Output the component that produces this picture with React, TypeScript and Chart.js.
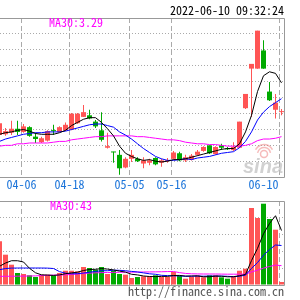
import React, { useEffect, useRef } from "react";
import { Chart, registerables } from "chart.js";

Chart.register(...registerables);

// ---------- data ----------
const dates = [
  "03-29", "03-30", "03-31", "04-01", "04-06", "04-07", "04-08", "04-11", "04-12", "04-13",
  "04-14", "04-15", "04-18", "04-19", "04-20", "04-21", "04-22", "04-25", "04-26", "04-27",
  "04-28", "04-29", "05-05", "05-06", "05-09", "05-10", "05-11", "05-12", "05-13", "05-16",
  "05-17", "05-18", "05-19", "05-20", "05-23", "05-24", "05-25", "05-26", "05-27", "05-30",
  "05-31", "06-01", "06-02", "06-06", "06-07", "06-08", "06-09", "06-10",
];
const tickDates = ["04-06", "04-18", "05-05", "05-16", "06-10"];
const timestamp = "2022-06-10 09:32:24";
const sourceText = "http://finance.sina.com.cn";

const open = [
  3.31, 3.32, 3.34, 3.39, 3.35, 3.41, 3.29, 3.22, 3.24, 3.37,
  3.35, 3.37, 3.38, 3.46, 3.54, 3.56, 3.48, 3.37, 3.15, 3.10,
  3.06, 2.90, 3.01, 3.01, 2.95, 2.96, 3.02, 2.96, 2.98, 3.01,
  3.08, 2.99, 3.00, 3.06, 3.11, 3.18, 3.07, 3.18, 3.14, 3.12,
  3.15, 3.65, 4.15, 4.15, 4.38, 3.86, 3.63, 3.60,
];
const high = [
  3.49, 3.40, 3.49, 3.49, 3.45, 3.42, 3.34, 3.29, 3.37, 3.44,
  3.42, 3.47, 3.59, 3.59, 3.69, 3.63, 3.50, 3.60, 3.34, 3.10,
  3.12, 3.03, 3.12, 3.03, 3.03, 3.01, 3.03, 3.01, 3.02, 3.11,
  3.10, 3.06, 3.07, 3.12, 3.17, 3.18, 3.17, 3.20, 3.16, 3.22,
  3.48, 3.83, 4.21, 4.63, 4.51, 3.98, 3.83, 3.64,
];
const low = [
  3.30, 3.30, 3.31, 3.31, 3.34, 3.29, 3.21, 3.21, 3.23, 3.31,
  3.35, 3.36, 3.37, 3.45, 3.54, 3.51, 3.40, 3.23, 3.14, 2.96,
  2.81, 2.89, 2.97, 2.97, 2.89, 2.93, 2.93, 2.91, 2.96, 3.00,
  2.98, 2.97, 2.99, 3.05, 3.10, 3.07, 3.06, 3.12, 3.12, 3.11,
  3.15, 3.64, 3.54, 4.15, 4.15, 3.74, 3.52, 3.56,
];
const close = [
  3.46, 3.36, 3.39, 3.35, 3.42, 3.30, 3.26, 3.27, 3.36, 3.36,
  3.41, 3.44, 3.58, 3.58, 3.60, 3.52, 3.42, 3.25, 3.17, 3.09,
  2.89, 3.01, 3.06, 2.98, 2.99, 2.99, 2.94, 2.99, 2.99, 3.09,
  2.99, 3.03, 3.05, 3.10, 3.16, 3.08, 3.16, 3.15, 3.13, 3.16,
  3.48, 3.83, 4.21, 4.63, 4.15, 3.75, 3.72, 3.61,
];
const ma5 = [
  3.32, 3.34, 3.35, 3.37, 3.38, 3.36, 3.33, 3.32, 3.32, 3.32,
  3.34, 3.37, 3.43, 3.47, 3.51, 3.53, 3.53, 3.47, 3.39, 3.30,
  3.17, 3.08, 3.04, 3.01, 2.99, 3.00, 2.98, 2.97, 2.98, 3.00,
  3.00, 3.01, 3.03, 3.05, 3.07, 3.09, 3.11, 3.13, 3.14, 3.14,
  3.20, 3.35, 3.56, 3.86, 4.06, 4.11, 4.09, 3.97,
];
const ma10 = [
  3.23, 3.26, 3.28, 3.30, 3.32, 3.33, 3.34, 3.34, 3.35, 3.35,
  3.35, 3.36, 3.38, 3.40, 3.42, 3.44, 3.45, 3.45, 3.43, 3.41,
  3.35, 3.31, 3.26, 3.20, 3.14, 3.09, 3.04, 3.01, 2.99, 2.99,
  3.00, 3.01, 3.00, 3.02, 3.03, 3.04, 3.06, 3.08, 3.09, 3.10,
  3.15, 3.23, 3.35, 3.50, 3.60, 3.67, 3.72, 3.77,
];
const ma30 = [
  3.17, 3.18, 3.18, 3.20, 3.20, 3.21, 3.21, 3.21, 3.21, 3.22,
  3.23, 3.23, 3.25, 3.26, 3.27, 3.28, 3.29, 3.29, 3.30, 3.30,
  3.30, 3.30, 3.30, 3.29, 3.29, 3.28, 3.27, 3.26, 3.25, 3.25,
  3.24, 3.22, 3.21, 3.20, 3.20, 3.19, 3.19, 3.18, 3.17, 3.17,
  3.17, 3.18, 3.20, 3.24, 3.26, 3.26, 3.27, 3.29,
];

const volume = [
  97.0, 67.3, 45.1, 26.6, 24.4, 21.5, 17.8, 22.9, 22.9, 21.5,
  26.6, 31.7, 31.7, 30.4, 40.0, 37.7, 34.0, 40.0, 24.4, 31.7,
  24.4, 22.9, 15.5, 17.8, 19.3, 19.3, 21.5, 17.8, 17.8, 28.9,
  20.6, 14.0, 18.4, 20.6, 17.1, 21.5, 21.5, 17.1, 14.0, 18.4,
  31.7, 36.2, 170.9, 148.7, 180.5, 146.5, 122.8, 6.7,
];
const volMa5 = [
  41.5, 48.8, 53.9, 53.9, 51.1, 37.1, 27.1, 22.6, 22.0, 21.3,
  22.4, 25.1, 26.9, 28.4, 32.2, 34.4, 34.9, 36.4, 35.3, 33.5,
  30.9, 28.6, 23.8, 22.4, 20.0, 18.9, 18.6, 19.1, 19.1, 21.1,
  21.3, 19.8, 20.0, 20.4, 18.2, 18.4, 19.8, 19.5, 18.2, 18.4,
  20.6, 23.5, 54.2, 81.3, 113.7, 136.5, 153.8, 121.0,
];
const volMa10 = [
  34.0, 36.5, 37.5, 37.7, 37.7, 37.7, 37.7, 37.7, 37.5, 36.6,
  29.7, 26.2, 24.9, 25.1, 26.6, 28.4, 30.0, 31.7, 31.7, 32.9,
  32.6, 31.7, 30.2, 28.9, 26.9, 24.9, 23.8, 21.5, 20.9, 20.4,
  20.2, 19.3, 19.5, 19.8, 19.5, 19.8, 19.8, 19.8, 19.3, 18.4,
  19.5, 21.8, 36.9, 49.7, 66.2, 78.6, 88.8, 87.7,
];
const volMa30 = [
  19.3, 19.3, 19.5, 19.5, 19.8, 20.0, 20.2, 21.0, 21.5, 22.0,
  22.2, 22.5, 23.5, 24.5, 25.5, 26.5, 27.0, 27.5, 27.8, 28.0,
  28.2, 28.4, 28.5, 28.7, 28.9, 29.0, 29.2, 29.4, 29.8, 30.0,
  27.5, 25.7, 24.9, 24.6, 24.4, 24.4, 24.4, 24.2, 24.0, 24.0,
  24.0, 24.2, 28.9, 32.9, 37.5, 41.1, 44.2, 43.0,
];

const priceMin = 2.78;
const priceMax = 4.79;
const volMin = 0;
const volMax = 186.5;

// ---------- styles ----------
const RED = "#ff5555";
const GREEN = "#00aa00";
const MA5_C = "#000000";
const MA10_C = "#0000ff";
const MA30_C = "#ff00ff";
const GRID_C = "#aaaaaa";
const FRAME_C = "#999999";
const DATE_C = "#1a73d9";
const FONT = '12px "Noto Sans Mono CJK SC", "DejaVu Sans Mono", monospace';

const candleColors = close.map((c, i) => (c >= open[i] ? RED : GREEN));
const pts = (arr: number[]) => arr.map((v, i) => ({ x: i, y: v }));

function xScale() {
  return {
    type: "linear",
    bounds: "data",
    offset: false,
    min: 1 / 12,
    max: dates.length - 7 / 12,
    afterBuildTicks: (scale: any) => {
      scale.ticks = tickDates.map((d) => ({ value: dates.indexOf(d) - 1 / 3 }));
    },
    ticks: { display: false },
    grid: { color: GRID_C, lineWidth: 1, drawTicks: false, offset: false },
    border: { display: false, dash: [5, 3] },
  };
}

function yScale(min: number, max: number, count: number) {
  return {
    type: "linear",
    bounds: "data",
    min,
    max,
    ticks: { display: false, count },
    grid: {
      color: (c: any) => (c.index === 0 || c.index === count - 1 ? "rgba(0,0,0,0)" : GRID_C),
      lineWidth: 1,
      drawTicks: false,
    },
    border: { display: false, dash: [1, 2] },
  };
}

function lineDs(label: string, data: number[], color: string) {
  return {
    type: "line",
    label,
    data: pts(data),
    borderColor: color,
    borderWidth: 1,
    pointRadius: 0,
    tension: 0,
    fill: false,
    order: 0,
    clip: 0,
  };
}

function drawFrame(chart: any) {
  const { ctx, chartArea: a } = chart;
  ctx.save();
  ctx.strokeStyle = FRAME_C;
  ctx.lineWidth = 1;
  ctx.beginPath();
  ctx.moveTo(0, a.top + 0.5);
  ctx.lineTo(a.right + 0.5, a.top + 0.5);
  ctx.lineTo(a.right + 0.5, a.bottom + 0.5);
  ctx.lineTo(0, a.bottom + 0.5);
  ctx.stroke();
  ctx.restore();
}

function text(ctx: any, s: string, x: number, y: number, color: string, align: string) {
  ctx.save();
  ctx.font = FONT;
  ctx.fillStyle = color;
  ctx.textAlign = align;
  ctx.textBaseline = "alphabetic";
  ctx.fillText(s, x, y);
  ctx.restore();
}

const pricePlugin = {
  id: "priceDecor",
  beforeDatasetsDraw(chart: any) {
    const { ctx, chartArea: a } = chart;
    // watermark
    ctx.save();
    ctx.globalAlpha = 0.5;
    ctx.strokeStyle = "#ee7777";
    ctx.lineWidth = 1.5;
    ctx.beginPath();
    ctx.arc(a.right - 20, a.bottom - 23, 3.5, 0, Math.PI * 2);
    ctx.stroke();
    ctx.beginPath();
    ctx.arc(a.right - 20, a.bottom - 23, 6.5, Math.PI * 1.05, Math.PI * 1.95);
    ctx.stroke();
    ctx.beginPath();
    ctx.arc(a.right - 20, a.bottom - 23, 9.5, Math.PI * 1.15, Math.PI * 1.85);
    ctx.stroke();
    ctx.globalAlpha = 0.7;
    ctx.fillStyle = "#bdbdbd";
    ctx.font = 'italic bold 20px "Liberation Sans", Arial, sans-serif';
    ctx.textAlign = "right";
    ctx.fillText("sina", a.right - 1, a.bottom - 4);
    ctx.restore();
    drawFrame(chart);
  },
  afterDraw(chart: any) {
    const { ctx, chartArea: a, scales } = chart;
    text(ctx, timestamp, a.right, a.top - 3, "#000000", "right");
    text(ctx, "MA30:" + ma30[ma30.length - 1].toFixed(2), 49, a.top + 9, MA30_C, "left");
    ctx.save();
    ctx.font = FONT;
    tickDates.forEach((d) => {
      const x = scales.x.getPixelForValue(dates.indexOf(d) - 1 / 3);
      const w = ctx.measureText(d).width;
      let left = x - w / 2;
      if (left + w > a.right - 5.5) left = a.right - 5.5 - w;
      ctx.fillStyle = DATE_C;
      ctx.textAlign = "left";
      ctx.fillText(d, left, a.bottom + 12);
    });
    ctx.restore();
  },
};

const volPlugin = {
  id: "volDecor",
  beforeDatasetsDraw(chart: any) {
    drawFrame(chart);
  },
  afterDraw(chart: any) {
    const { ctx, chartArea: a } = chart;
    text(ctx, "MA30:" + Math.round(volMa30[volMa30.length - 1]), 50, a.top + 9, MA30_C, "left");
    text(ctx, sourceText, a.right, a.bottom + 11, "#555555", "right");
  },
};

const common = {
  animation: false,
  responsive: false,
  devicePixelRatio: 1,
  events: [],
  plugins: { legend: { display: false }, tooltip: { enabled: false } },
};

export default function App() {
  const priceRef = useRef<HTMLCanvasElement>(null);
  const volRef = useRef<HTMLCanvasElement>(null);

  useEffect(() => {
    const priceChart = new Chart(priceRef.current as HTMLCanvasElement, {
      type: "bar",
      data: {
        datasets: [
          lineDs("MA5", ma5, MA5_C),
          lineDs("MA10", ma10, MA10_C),
          lineDs("MA30", ma30, MA30_C),
          {
            type: "bar",
            label: "body",
            data: open.map((o, i) => ({ x: i, y: [o, close[i]] })),
            backgroundColor: candleColors,
            barThickness: 5,
            grouped: false,
            minBarLength: 1,
            inflateAmount: 0,
            borderWidth: 0,
            order: 1,
          },
          {
            type: "bar",
            label: "wick",
            data: low.map((l, i) => ({ x: i, y: [l, high[i]] })),
            backgroundColor: candleColors,
            barThickness: 1,
            grouped: false,
            inflateAmount: 0,
            borderWidth: 0,
            order: 2,
          },
        ],
      } as any,
      options: {
        ...common,
        layout: { padding: { left: 0, right: 16, top: 18, bottom: 123 } },
        scales: { x: xScale(), y: yScale(priceMin, priceMax, 11) },
      } as any,
      plugins: [pricePlugin],
    });

    const volChart = new Chart(volRef.current as HTMLCanvasElement, {
      type: "bar",
      data: {
        datasets: [
          lineDs("MA5", volMa5, MA5_C),
          lineDs("MA10", volMa10, MA10_C),
          lineDs("MA30", volMa30, MA30_C),
          {
            type: "bar",
            label: "volume",
            data: volume.map((v, i) => ({ x: i, y: v })),
            backgroundColor: candleColors,
            barThickness: 5,
            grouped: false,
            inflateAmount: 0,
            borderWidth: 0,
            order: 1,
          },
        ],
      } as any,
      options: {
        ...common,
        layout: { padding: { left: 0, right: 16, top: 201, bottom: 15 } },
        scales: { x: xScale(), y: yScale(volMin, volMax, 6) },
      } as any,
      plugins: [volPlugin],
    });

    return () => {
      priceChart.destroy();
      volChart.destroy();
    };
  }, []);

  const cstyle: React.CSSProperties = { position: "absolute", left: 0, top: 0, width: 300, height: 300 };
  return (
    <div style={{ position: "fixed", left: 0, top: 0, width: 300, height: 300, background: "#ffffff", overflow: "hidden" }}>
      <canvas ref={priceRef} width={300} height={300} style={cstyle} />
      <canvas ref={volRef} width={300} height={300} style={cstyle} />
    </div>
  );
}
